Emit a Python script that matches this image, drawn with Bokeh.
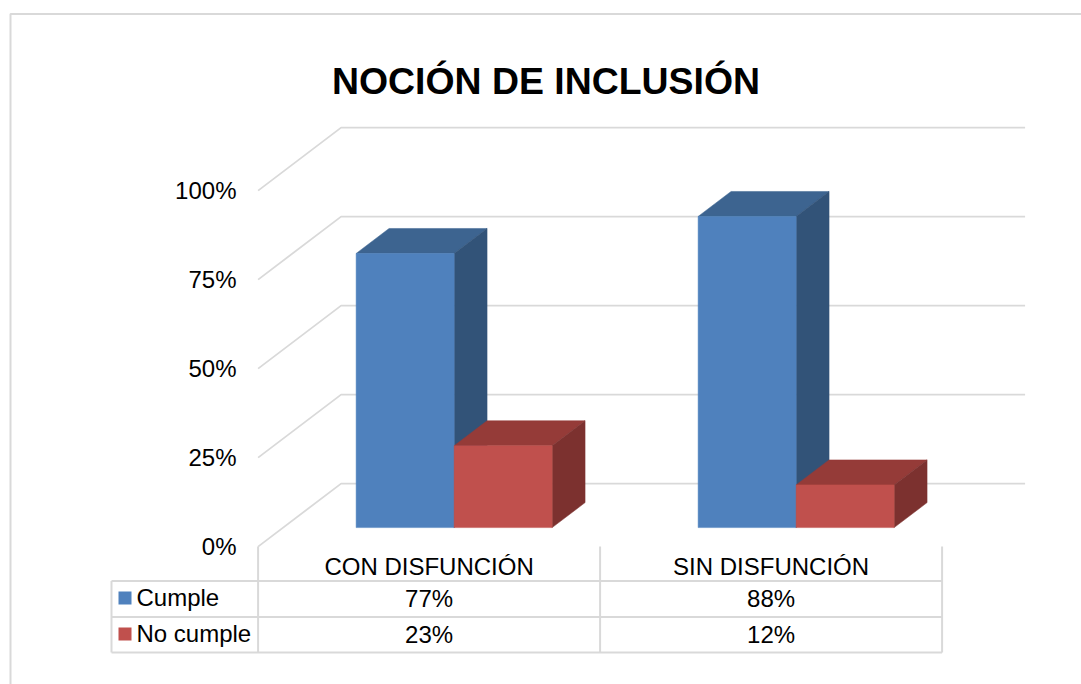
from bokeh.plotting import figure
from bokeh.models import Range1d
from bokeh.core.properties import value
from bokeh.embed import file_html
from bokeh.resources import INLINE

# ---- data ----
title = "NOCIÓN DE INCLUSIÓN"
categories = ["CON DISFUNCIÓN", "SIN DISFUNCIÓN"]
series_names = ["Cumple", "No cumple"]
cumple = [77, 87.4]
no_cumple = [23, 12]
cumple_labels = ["77%", "88%"]
no_cumple_labels = ["23%", "12%"]
y_ticks = [0, 25, 50, 75, 100]
y_tick_labels = ["0%", "25%", "50%", "75%", "100%"]

# ---- layout: one category = 342 px, one percent = 3.56 px ----
W, H = 1081, 684
PAGE = 0
CAT_PX, PCT_PX = 342.0, 3.56
X0_PX, Y0_PX = 257.6, 546.1          # front-left corner of the floor, in page px
DEPTH_DX, DEPTH_DY = 83.0 / CAT_PX, 63.0 / PCT_PX   # full depth offset in data units


def X(px):
    return (px - X0_PX) / CAT_PX


def Y(py):
    return (Y0_PX - py) / PCT_PX


def proj(x, v, d):
    """x in categories, v in percent, d in 0..1 depth."""
    return x + d * DEPTH_DX, v + d * DEPTH_DY


p = figure(width=W, height=H, output_backend="svg", toolbar_location=None,
           x_range=Range1d(X(PAGE), X(PAGE + W)), y_range=Range1d(Y(PAGE + H), Y(PAGE)),
           min_border=0, outline_line_color=None, background_fill_color="white",
           border_fill_color="white", x_axis_type="linear")
p.axis.visible = False
p.grid.visible = False

GRID = "#D9D9D9"
FONT = value("Liberation Sans")
TXT = "#000000"

# chart frame
p.line([X(10), X(10), X(PAGE + W)], [Y(PAGE + H), Y(13.5), Y(13.5)], line_color=GRID, line_width=2)

# gridlines: floor-to-back wall
for t in y_ticks:
    a = proj(0, t, 0)
    b = proj(0, t, 1)
    c = proj(len(categories), t, 1)
    p.line([a[0], b[0], c[0]], [a[1], b[1], c[1]], line_color=GRID, line_width=1.8)

# bars
GAP = 73 / CAT_PX
BAR = 98 / CAT_PX
D1, D2 = 19 / 63, 44 / 63
STYLES = [("#4F81BD", "#3D6490", "#325378"), ("#C0504D", "#953B38", "#7C312F")]


def face(points, color):
    xs, ys = zip(*[proj(*q) for q in points])
    p.patch(list(xs), list(ys), fill_color=color, line_color=color, line_width=0.5)


for i in range(len(categories)):
    for s, vals in enumerate([cumple, no_cumple]):
        v = vals[i]
        x1 = i + GAP + s * BAR
        x2 = x1 + BAR
        front, top, side = STYLES[s]
        face([(x1, v, D1), (x2, v, D1), (x2, v, D2), (x1, v, D2)], top)
        face([(x2, 0, D1), (x2, v, D1), (x2, v, D2), (x2, 0, D2)], side)
        face([(x1, 0, D1), (x2, 0, D1), (x2, v, D1), (x1, v, D1)], front)

# y tick labels
p.text([X(236)] * len(y_ticks), y_ticks, text=y_tick_labels, text_align="right",
       text_baseline="middle", text_font=FONT, text_font_size="24px", text_color=TXT)

# data table
R0, R1, R2 = 580.5, 616.5, 652.0
L = 111.0
n = len(categories)
for yy in (R0, R1, R2):
    p.line([X(L), n], [Y(yy), Y(yy)], line_color=GRID, line_width=2)
p.line([X(L), X(L)], [Y(R0), Y(R2)], line_color=GRID, line_width=2)
for i in range(n + 1):
    p.line([i, i], [Y(546), Y(R2)], line_color=GRID, line_width=2)

cx = [i + 0.5 for i in range(n)]
for labels, py in ((categories, 565.5), (cumple_labels, 597.5), (no_cumple_labels, 633.5)):
    p.text(cx, [Y(py)] * n, text=labels, text_align="center", text_baseline="middle",
           text_font=FONT, text_font_size="24px", text_color=TXT)

for s, (py, ty) in enumerate(((597.5, 596.5), (633.5, 633))):
    p.quad(left=[X(118)], right=[X(131)], top=[Y(py - 6.5)], bottom=[Y(py + 6.5)],
           fill_color=STYLES[s][0], line_color=None)
    p.text([X(136)], [Y(ty)], text=[series_names[s]], text_align="left", text_baseline="middle",
           text_font=FONT, text_font_size="24px", text_color=TXT)

# title
p.text([X(545.5)], [Y(80)], text=[title], text_align="center", text_baseline="middle",
       text_font=FONT, text_font_style="bold", text_font_size="37.4px", text_color=TXT)

open("out.html", "w").write(file_html(p, INLINE))
